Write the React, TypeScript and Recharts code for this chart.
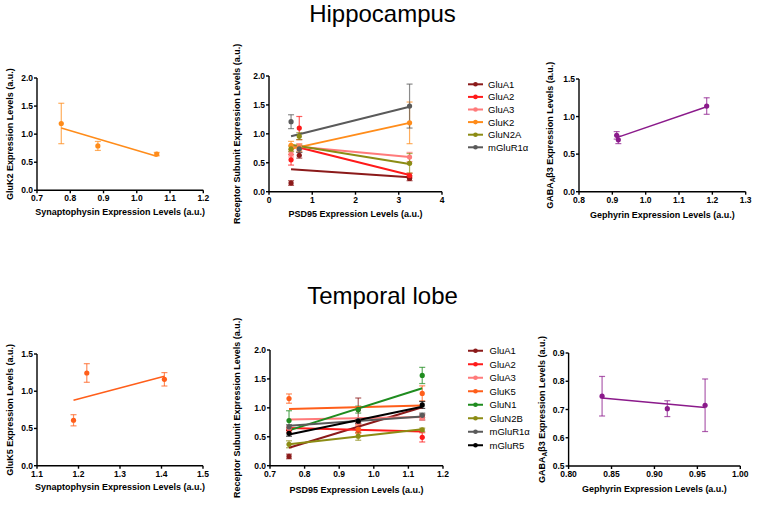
import React from 'react';
import { ScatterChart, Scatter, XAxis, YAxis, ErrorBar } from 'recharts';

const FONT = '"Liberation Sans", Arial, Helvetica, sans-serif';

// ---------------- DATA ----------------
// Hippocampus: GluK2 vs Synaptophysin
const hipSynX = [0.773, 0.883, 1.06];
const hipGluK2Y = [1.19, 0.79, 0.645];
const hipGluK2Err = [0.36, 0.08, 0.03];
const hipSynFitX = [0.773, 1.06];
const hipGluK2FitY = [1.11, 0.605];

// Hippocampus: receptor subunits vs PSD95
const hipNames = ['GluA1', 'GluA2', 'GluA3', 'GluK2', 'GluN2A', 'mGluR1α'];
const hipPsdX = [0.51, 0.7, 3.25];
const hipPsdFitX = [0.51, 3.25];
const hipPsdY = [
  [0.15, 0.63, 0.23],
  [0.55, 1.1, 0.28],
  [0.65, 0.78, 0.6],
  [0.8, 0.76, 1.19],
  [0.74, 0.96, 0.49],
  [1.21, 0.74, 1.48],
];
const hipPsdErr = [
  [0.04, 0.05, 0.04],
  [0.09, 0.2, 0.04],
  [0.05, 0.05, 0.08],
  [0.07, 0.06, 0.36],
  [0.05, 0.06, 0.17],
  [0.12, 0.06, 0.38],
];
const hipPsdFitY = [
  [0.39, 0.25],
  [0.8, 0.29],
  [0.79, 0.6],
  [0.74, 1.19],
  [0.81, 0.48],
  [0.96, 1.47],
];

// Hippocampus: GABAAβ3 vs Gephyrin
const hipGephX = [0.913, 0.918, 1.183];
const hipGabaY = [0.75, 0.69, 1.14];
const hipGabaErr = [0.05, 0.05, 0.11];
const hipGephFitX = [0.913, 1.183];
const hipGabaFitY = [0.72, 1.13];

// Temporal lobe: GluK5 vs Synaptophysin
const tmpSynX = [1.188, 1.22, 1.407];
const tmpGluK5Y = [0.61, 1.245, 1.16];
const tmpGluK5Err = [0.075, 0.125, 0.09];
const tmpSynFitX = [1.188, 1.407];
const tmpGluK5FitY = [0.88, 1.2];

// Temporal lobe: receptor subunits vs PSD95
const tmpNames = ['GluA1', 'GluA2', 'GluA3', 'GluK5', 'GluN1', 'GluN2B', 'mGluR1α', 'mGluR5'];
const tmpPsdX = [0.755, 0.955, 1.14];
const tmpPsdFitX = [0.755, 1.14];
const tmpPsdY = [
  [0.16, 0.97, 0.84],
  [0.62, 0.62, 0.49],
  [0.65, 0.75, 0.83],
  [1.16, 0.63, 1.25],
  [0.78, 0.97, 1.56],
  [0.37, 0.51, 0.62],
  [0.67, 0.78, 0.87],
  [0.56, 0.77, 1.05],
];
const tmpPsdErr = [
  [0.04, 0.2, 0.05],
  [0.04, 0.05, 0.08],
  [0.04, 0.04, 0.04],
  [0.08, 0.07, 0.13],
  [0.17, 0.06, 0.14],
  [0.06, 0.07, 0.03],
  [0.04, 0.04, 0.04],
  [0.05, 0.04, 0.06],
];
const tmpPsdFitY = [
  [0.31, 1.01],
  [0.65, 0.59],
  [0.8, 0.84],
  [0.98, 1.04],
  [0.61, 1.34],
  [0.37, 0.63],
  [0.69, 0.85],
  [0.54, 1.02],
];

// Temporal lobe: GABAAβ3 vs Gephyrin
const tmpGephX = [0.839, 0.915, 0.959];
const tmpGabaY = [0.747, 0.703, 0.715];
const tmpGabaErr = [0.07, 0.028, 0.093];
const tmpGephFitX = [0.839, 0.959];
const tmpGabaFitY = [0.741, 0.707];

// Tick labels
const hipSynTicks = [0.7, 0.8, 0.9, 1.0, 1.1, 1.2];
const hipPsdTicks = [0, 1, 2, 3, 4];
const hipGephTicks = [0.8, 0.9, 1.0, 1.1, 1.2, 1.3];
const tmpSynTicks = [1.1, 1.2, 1.3, 1.4, 1.5];
const tmpPsdTicks = [0.7, 0.8, 0.9, 1.0, 1.1, 1.2];
const tmpGephTicks = [0.8, 0.85, 0.9, 0.95, 1.0];
const yTicks0to2 = [0, 0.5, 1.0, 1.5, 2.0];
const yTicks0to15 = [0, 0.5, 1.0, 1.5];
const yTicksGabaTmp = [0.5, 0.6, 0.7, 0.8, 0.9];

// Colours
const colorMap: Record<string, string> = {
  GluA1: '#8b1a1a',
  GluA2: '#ff1a1a',
  GluA3: '#ff7b7b',
  GluK2: '#ff8c1a',
  GluK5: '#ff5e1a',
  GluN1: '#1f8c1f',
  GluN2A: '#8c8c14',
  GluN2B: '#8c8c14',
  'mGluR1α': '#5a5a5a',
  mGluR5: '#000000',
  GABA: '#8b1a8b',
};

// ---------------- helpers ----------------
const pts = (xs: number[], ys: number[], es: number[]) => xs.map((x, i) => ({ x, y: ys[i], err: es[i] }));
const fitPts = (xs: number[], ys: number[]) => xs.map((x, i) => ({ x, y: ys[i] }));

type Series = { name: string; color: string; points: any[]; fit: any[] };

const hipSynSeries: Series[] = [
  { name: 'GluK2', color: colorMap.GluK2, points: pts(hipSynX, hipGluK2Y, hipGluK2Err), fit: fitPts(hipSynFitX, hipGluK2FitY) },
];
const hipPsdSeries: Series[] = hipNames.map((n, i) => ({
  name: n,
  color: colorMap[n],
  points: pts(hipPsdX, hipPsdY[i], hipPsdErr[i]),
  fit: fitPts(hipPsdFitX, hipPsdFitY[i]),
}));
const hipGephSeries: Series[] = [
  { name: 'GABA', color: colorMap.GABA, points: pts(hipGephX, hipGabaY, hipGabaErr), fit: fitPts(hipGephFitX, hipGabaFitY) },
];
const tmpSynSeries: Series[] = [
  { name: 'GluK5', color: colorMap.GluK5, points: pts(tmpSynX, tmpGluK5Y, tmpGluK5Err), fit: fitPts(tmpSynFitX, tmpGluK5FitY) },
];
const tmpPsdSeries: Series[] = tmpNames.map((n, i) => ({
  name: n,
  color: colorMap[n],
  points: pts(tmpPsdX, tmpPsdY[i], tmpPsdErr[i]),
  fit: fitPts(tmpPsdFitX, tmpPsdFitY[i]),
}));
const tmpGephSeries: Series[] = [
  { name: 'GABA', color: colorMap.GABA, points: pts(tmpGephX, tmpGabaY, tmpGabaErr), fit: fitPts(tmpGephFitX, tmpGabaFitY) },
];

// ---------------- components ----------------
function XLab(props: any) {
  const { px, py, text } = props;
  return (
    <text x={px} y={py} textAnchor="middle" dominantBaseline="central" fontSize={9} fontWeight={700} fill="#000" fontFamily={FONT}>
      {text}
    </text>
  );
}

function YLab(props: any) {
  const { px, py, pre, sub, post } = props;
  return (
    <text
      x={px}
      y={py}
      transform={`rotate(-90 ${px} ${py})`}
      textAnchor="middle"
      dominantBaseline="central"
      fontSize={9}
      fontWeight={700}
      fill="#000"
      fontFamily={FONT}
    >
      {pre}
      {sub ? <tspan dy={2.5} fontSize={6.5}>{sub}</tspan> : null}
      {sub ? <tspan dy={-2.5}>{post}</tspan> : null}
    </text>
  );
}

const Empty = () => <g />;

type PanelProps = {
  plotLeft: number;
  plotTop: number;
  plotW: number;
  plotH: number;
  yLabelX: number;
  xLabelY: number;
  xDomain: [number, number];
  xTicks: number[];
  xFmt: (v: number) => string;
  yDomain: [number, number];
  yTicks: number[];
  yFmt: (v: number) => string;
  xLabel: string;
  yPre: string;
  ySub?: string;
  yPost?: string;
  series: Series[];
  lineW: number;
};

function Panel(p: PanelProps) {
  const mt = 50;
  const mr = 14;
  const xh = 34;
  const yw = p.plotLeft - p.yLabelX + 10;
  const width = yw + p.plotW + mr;
  const height = mt + p.plotH + xh;
  const left = p.plotLeft - yw;
  const top = p.plotTop - mt;
  const tickStyle = { fontSize: 8.5, fontWeight: 700, fill: '#000', fontFamily: FONT };
  return (
    <div style={{ position: 'absolute', left, top, width, height }}>
      <ScatterChart width={width} height={height} margin={{ top: mt, right: mr, bottom: 0, left: 0 }}>
        <XAxis
          type="number"
          dataKey="x"
          domain={p.xDomain}
          ticks={p.xTicks}
          allowDataOverflow
          tickFormatter={p.xFmt}
          height={xh}
          tick={tickStyle}
          tickSize={3}
          tickMargin={2}
          axisLine={{ stroke: '#000', strokeWidth: 1.4 }}
          tickLine={{ stroke: '#000', strokeWidth: 1.4 }}
          label={<XLab px={yw + p.plotW / 2} py={p.xLabelY - top} text={p.xLabel} />}
        />
        <YAxis
          type="number"
          dataKey="y"
          domain={p.yDomain}
          ticks={p.yTicks}
          allowDataOverflow
          tickFormatter={p.yFmt}
          width={yw}
          tick={tickStyle}
          tickSize={3}
          tickMargin={1}
          axisLine={{ stroke: '#000', strokeWidth: 1.4 }}
          tickLine={{ stroke: '#000', strokeWidth: 1.4 }}
          label={<YLab px={p.yLabelX - left} py={mt + p.plotH / 2} pre={p.yPre} sub={p.ySub} post={p.yPost} />}
        />
        {p.series.map((s) => (
          <Scatter
            key={s.name + '-fit'}
            data={s.fit}
            fill={s.color}
            line={{ stroke: s.color, strokeWidth: p.lineW }}
            shape={Empty}
            legendType="none"
            isAnimationActive={false}
          />
        ))}
        {p.series.map((s) => (
          <Scatter
            key={s.name + '-pts'}
            data={s.points}
            fill={s.color}
            shape={(q: any) => <circle cx={q.cx} cy={q.cy} r={2.6} fill={s.color} />}
            legendType="none"
            isAnimationActive={false}
          >
            <ErrorBar dataKey="err" direction="y" width={3} stroke={s.color} strokeWidth={1.2} strokeOpacity={0.7} />
          </Scatter>
        ))}
      </ScatterChart>
    </div>
  );
}

function SeriesLegend({ series, x, y, gap, textDx }: { series: Series[]; x: number; y: number; gap: number; textDx: number }) {
  const h = gap * series.length;
  return (
    <svg style={{ position: 'absolute', left: x, top: y - gap / 2 }} width={90} height={h}>
      {series.map((s, i) => {
        const cy = i * gap + gap / 2;
        return (
          <g key={s.name}>
            <line x1={0} x2={15} y1={cy} y2={cy} stroke={s.color} strokeWidth={2} />
            <circle cx={7.5} cy={cy} r={2.3} fill={s.color} />
            <text x={textDx} y={cy} dominantBaseline="central" fontSize={9.5} fill="#000" fontFamily={FONT}>
              {s.name}
            </text>
          </g>
        );
      })}
    </svg>
  );
}

const f1 = (v: number) => v.toFixed(1);
const f0 = (v: number) => v.toFixed(0);
const f2 = (v: number) => v.toFixed(2);

export default function App() {
  const titleStyle: React.CSSProperties = {
    position: 'absolute',
    left: 0,
    width: 765,
    textAlign: 'center',
    fontSize: 24,
    lineHeight: '27px',
    fontFamily: FONT,
    color: '#000',
  };
  return (
    <div style={{ position: 'absolute', left: 0, top: 0, width: 765, height: 505, background: '#fff', overflow: 'hidden' }}>
      <div style={{ ...titleStyle, top: 0 }}>Hippocampus</div>
      <div style={{ ...titleStyle, top: 282 }}>Temporal lobe</div>

      <Panel
        plotLeft={37} plotTop={77.7} plotW={166.3} plotH={112.3} yLabelX={10} xLabelY={211.7}
        xDomain={[0.7, 1.2]} xTicks={hipSynTicks} xFmt={f1}
        yDomain={[0, 2]} yTicks={yTicks0to2} yFmt={f1}
        xLabel="Synaptophysin Expression Levels (a.u.)" yPre="GluK2 Expression Levels (a.u.)"
        series={hipSynSeries} lineW={1.5}
      />
      <Panel
        plotLeft={269} plotTop={76} plotW={173} plotH={115.7} yLabelX={237} xLabelY={214}
        xDomain={[0, 4]} xTicks={hipPsdTicks} xFmt={f0}
        yDomain={[0, 2]} yTicks={yTicks0to2} yFmt={f1}
        xLabel="PSD95 Expression Levels (a.u.)" yPre="Receptor Subunit Expression Levels (a.u.)"
        series={hipPsdSeries} lineW={2}
      />
      <SeriesLegend series={hipPsdSeries} x={468} y={84.3} gap={12.6} textDx={20} />
      <Panel
        plotLeft={579} plotTop={79} plotW={166.7} plotH={112.7} yLabelX={550} xLabelY={215}
        xDomain={[0.8, 1.3]} xTicks={hipGephTicks} xFmt={f1}
        yDomain={[0, 1.5]} yTicks={yTicks0to15} yFmt={f1}
        xLabel="Gephyrin Expression Levels (a.u.)" yPre="GABA" ySub="A" yPost="β3 Expression Levels (a.u.)"
        series={hipGephSeries} lineW={1.5}
      />

      <Panel
        plotLeft={37} plotTop={354} plotW={166} plotH={111.7} yLabelX={10} xLabelY={487}
        xDomain={[1.1, 1.5]} xTicks={tmpSynTicks} xFmt={f1}
        yDomain={[0, 1.5]} yTicks={yTicks0to15} yFmt={f1}
        xLabel="Synaptophysin Expression Levels (a.u.)" yPre="GluK5 Expression Levels (a.u.)"
        series={tmpSynSeries} lineW={1.5}
      />
      <Panel
        plotLeft={270} plotTop={350} plotW={173} plotH={115.7} yLabelX={237} xLabelY={490}
        xDomain={[0.7, 1.2]} xTicks={tmpPsdTicks} xFmt={f1}
        yDomain={[0, 2]} yTicks={yTicks0to2} yFmt={f1}
        xLabel="PSD95 Expression Levels (a.u.)" yPre="Receptor Subunit Expression Levels (a.u.)"
        series={tmpPsdSeries} lineW={2}
      />
      <SeriesLegend series={tmpPsdSeries} x={468} y={351} gap={13.5} textDx={21.5} />
      <Panel
        plotLeft={568.3} plotTop={352.7} plotW={171.7} plotH={113} yLabelX={541.7} xLabelY={489}
        xDomain={[0.8, 1.0]} xTicks={tmpGephTicks} xFmt={f2}
        yDomain={[0.5, 0.9]} yTicks={yTicksGabaTmp} yFmt={f1}
        xLabel="Gephyrin Expression Levels (a.u.)" yPre="GABA" ySub="A" yPost="β3 Expression Levels (a.u.)"
        series={tmpGephSeries} lineW={1.5}
      />
    </div>
  );
}
